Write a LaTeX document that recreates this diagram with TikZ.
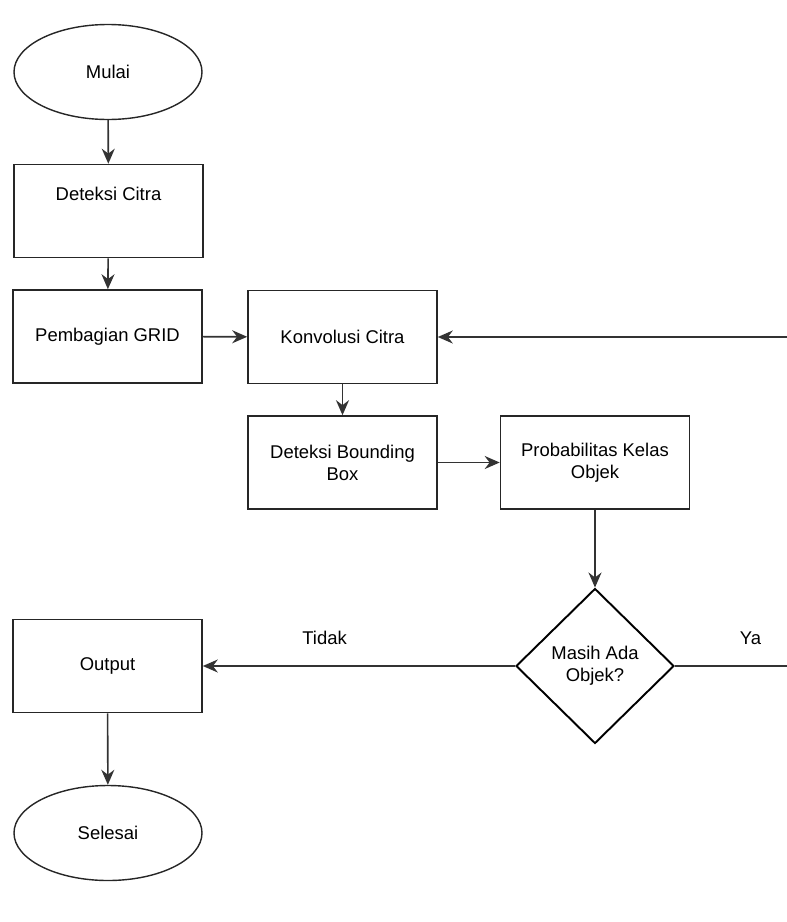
\documentclass[tikz,border=0pt]{standalone}
\usepackage{fontspec}
\setmainfont{Liberation Sans}
\usepackage{tikz}
\usetikzlibrary{shapes.geometric, arrows.meta, positioning}
\tikzstyle{startstop} = [ellipse, minimum width=3.76cm, minimum height=1.9cm, text centered, draw=black!85, line width=0.8pt]
\tikzstyle{process} = [rectangle, minimum width=3.78cm, minimum height=1.86cm, text centered, align=center, draw=black!85, line width=0.9pt]
\tikzstyle{decision} = [diamond, minimum width=3.16cm, minimum height=3.1cm, inner sep=0pt, text centered, align=center, draw=black, line width=1.1pt]
\tikzstyle{arrow} = [line width=0.9pt, draw=black!80, ->, >={Stealth[length=3mm,width=2.6mm]}]

\begin{document}
\begin{tikzpicture}[font=\fontsize{10.5}{12.5}\selectfont]
\useasboundingbox (0,0) rectangle (15.74,-18.44);

\node (start) [startstop] at (2.16,-1.44) {Mulai};
\node (detect) [process] at (2.17,-4.22) {Deteksi Citra\\[7pt]~};
\node (grid) [process] at (2.15,-6.73) {Pembagian GRID};
\node (conv) [process] at (6.85,-6.74) {Konvolusi Citra};
\node (bbox) [process] at (6.85,-9.25) {Deteksi Bounding\\Box};
\node (prob) [process] at (11.9,-9.25) {Probabilitas Kelas\\Objek};
\node (check) [decision] at (11.9,-13.32) {Masih Ada\\Objek?};
\node (output) [process] at (2.15,-13.32) {Output};
\node (stop) [startstop] at (2.16,-16.66) {Selesai};
\coordinate (loop) at (16.2,-13.32);

\draw [arrow] (start) -- (detect);
\draw [arrow] (detect) -- (grid);
\draw [arrow] (grid) -- (conv);
\draw [arrow] (conv) -- (bbox);
\draw [arrow] (bbox) -- (prob);
\draw [arrow] (prob) -- (check);
\draw [arrow] (check) -- node[above=0.3cm, pos=0.61] {Tidak} (output);
\draw [arrow] (check) -- node[above=0.3cm, pos=0.56] {Ya} (loop) |- (conv);
\draw [arrow] (output) -- (stop);
\end{tikzpicture}
\end{document}
